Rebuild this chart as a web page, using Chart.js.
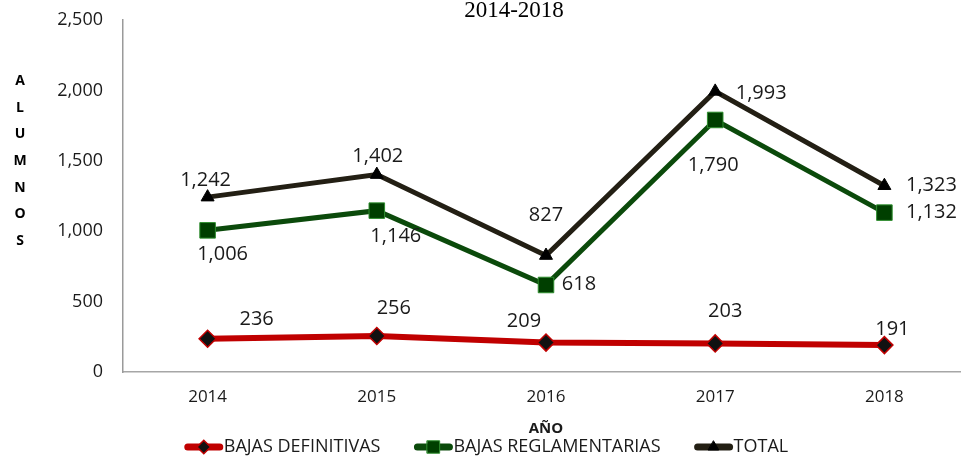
<!DOCTYPE html>
<html>
<head>
<meta charset="utf-8">
<script src="https://cdn.jsdelivr.net/npm/chart.js@4.4.1/dist/chart.umd.min.js"></script>
<style>
  html, body { margin: 0; padding: 0; background: #fff; overflow: hidden; }
  #wrap { width: 981px; height: 459px; }
</style>
</head>
<body>
<div id="wrap"><canvas id="chart" width="981" height="459"></canvas></div>
<script>
const YEARS = ["2014", "2015", "2016", "2017", "2018"];
const BAJAS_DEFINITIVAS = [236, 256, 209, 203, 191];
const BAJAS_REGLAMENTARIAS = [1006, 1146, 618, 1790, 1132];
const TOTAL = [1242, 1402, 827, 1993, 1323];
const Y_TICKS = [0, 500, 1000, 1500, 2000, 2500];
const TITLE = "2014-2018";
const Y_TITLE = "ALUMNOS";
const X_TITLE = "AÑO";

// label offsets from each point (px)
const LABEL_OFFSETS = [
  [[49, -19], [17, -28], [-22, -21], [10, -32], [8, -16]],
  [[15, 24], [19, 26], [33, -1], [-2, 45], [47, 0]],
  [[-2, -17], [1, -18], [0, -40], [46, 2], [47, 0]],
];

const TXT = "#1a1a1a";
const FONT = "'Open Sans', 'Liberation Sans', sans-serif";
const fmt = v => v.toLocaleString("en-US");

const SERIES = [
  { label: "BAJAS DEFINITIVAS", data: BAJAS_DEFINITIVAS, line: "#c00000", width: 6,
    style: "rectRot", radius: 8.5, fill: "#111111", border: "#c00000", bw: 1.5 },
  { label: "BAJAS REGLAMENTARIAS", data: BAJAS_REGLAMENTARIAS, line: "#0b4a0b", width: 5,
    style: "rect", radius: 11, fill: "#003f00", border: "#2f8f2f", bw: 1 },
  { label: "TOTAL", data: TOTAL, line: "#231f14", width: 5,
    style: "triangle", radius: 7.5, fill: "#000000", border: "#000000", bw: 1 },
];

const datasets = SERIES.map(s => ({
  label: s.label,
  data: s.data,
  borderColor: s.line,
  backgroundColor: s.fill,
  borderWidth: s.width,
  pointStyle: s.style,
  pointRadius: s.radius,
  pointBackgroundColor: s.fill,
  pointBorderColor: s.border,
  pointBorderWidth: s.bw,
  tension: 0,
  fill: false,
}));

const extras = {
  id: "extras",
  afterDatasetsDraw(chart) {
    const ctx = chart.ctx;
    ctx.save();
    ctx.font = "20px " + FONT;
    ctx.fillStyle = TXT;
    ctx.textAlign = "center";
    ctx.textBaseline = "middle";
    chart.data.datasets.forEach((ds, i) => {
      chart.getDatasetMeta(i).data.forEach((pt, j) => {
        const [dx, dy] = LABEL_OFFSETS[i][j];
        ctx.fillText(fmt(ds.data[j]), pt.x + dx, pt.y + dy);
      });
    });
    ctx.restore();
  },
  afterDraw(chart) {
    const ctx = chart.ctx;
    ctx.save();
    // title (top of a longer heading, cut by the frame)
    ctx.font = "23px 'Liberation Serif', 'DejaVu Serif', serif";
    ctx.fillStyle = "#000";
    ctx.textAlign = "center";
    ctx.textBaseline = "alphabetic";
    ctx.fillText(TITLE, 514, 17);
    // vertical stacked y title
    ctx.font = "bold 14px " + FONT;
    ctx.textBaseline = "middle";
    [...Y_TITLE].forEach((ch, k) => ctx.fillText(ch, 20, 81 + k * 26.7));
    // legend: line + marker, then label
    ctx.font = "18px " + FONT;
    ctx.textAlign = "left";
    const markW = 40, gap = 33;
    const widths = SERIES.map(s => ctx.measureText(s.label).width);
    const total = widths.reduce((a, w) => a + w + markW, 0) + gap * (SERIES.length - 1);
    let x = 486 - total / 2;
    const y = 447;
    SERIES.forEach((s, i) => {
      ctx.strokeStyle = s.line;
      ctx.lineWidth = 7;
      ctx.lineCap = "round";
      ctx.beginPath();
      ctx.moveTo(x + 4, y);
      ctx.lineTo(x + markW - 4, y);
      ctx.stroke();
      ctx.fillStyle = s.fill;
      ctx.strokeStyle = s.border;
      ctx.lineWidth = s.bw;
      Chart.helpers.drawPoint(ctx, { pointStyle: s.style, radius: s.radius * 0.8, rotation: 0, borderWidth: s.bw }, x + markW / 2, y);
      ctx.fillStyle = TXT;
      ctx.fillText(s.label, x + markW, y);
      x += markW + widths[i] + gap;
    });
    ctx.restore();
  },
};

new Chart(document.getElementById("chart"), {
  type: "line",
  data: { labels: YEARS, datasets },
  plugins: [extras],
  options: {
    responsive: false,
    animation: false,
    layout: { padding: { top: 20, right: 2, bottom: 21, left: 0 } },
    plugins: {
      legend: { display: false },
      tooltip: { enabled: false },
      title: { display: false },
    },
    scales: {
      x: {
        offset: true,
        afterFit(scale) { scale.height = 66; },
        grid: { display: false, drawTicks: false },
        border: { display: true, color: "#a6a6a6", width: 1.5 },
        ticks: { color: TXT, font: { size: 17, family: FONT }, padding: 15 },
        title: {
          display: true, text: X_TITLE, color: TXT,
          font: { size: 15, weight: "bold", family: FONT },
          padding: { top: 0, bottom: 0 },
        },
      },
      y: {
        min: 0,
        max: 2500,
        afterFit(scale) {
          scale.width = 123;
          scale.paddingTop = 0;
          scale.paddingBottom = 0;
        },
        afterBuildTicks(scale) { scale.ticks = Y_TICKS.map(v => ({ value: v })); },
        grid: { display: false, drawTicks: false },
        border: { display: true, color: "#9a9a9a", width: 1.5 },
        ticks: { color: TXT, font: { size: 18, family: FONT }, padding: 20, callback: v => fmt(v) },
      },
    },
  },
});
</script>
</body>
</html>
